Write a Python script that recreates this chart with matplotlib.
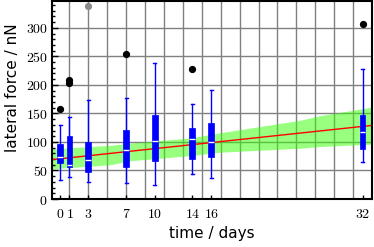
import numpy as np
import matplotlib
matplotlib.use("Agg")
import matplotlib.pyplot as plt
from matplotlib.ticker import MultipleLocator, FixedLocator, FuncFormatter

plt.rcParams['mathtext.fontset'] = 'cm'

# box plot values (lateral force, nN)
days = [0, 1, 3, 7, 10, 14, 16, 32]
whis_lo = [33, 39, 30, 28, 25, 43, 36, 64]
q1 = [63, 56, 48, 56, 66, 70, 74, 88]
medians = [74, 59, 69, 85, 101, 106, 100, 117]
q3 = [96, 110, 100, 121, 147, 124, 133, 147]
whis_hi = [130, 143, 173, 177, 239, 166, 191, 228]
outliers = [[158], [203, 208], [], [254], [], [227], [], [307]]
# one far outlier drawn in gray
gray_day = [3]
gray_val = [339]

# linear fit and its band
fit_days = [-0.85, 33.0]
fit_vals = [69, 129]
band_days = [-0.85, 5.3, 7.4, 13.8, 16.9, 25.4, 27.5, 33.0]
band_lo = [53, 60, 67, 76, 82, 89, 92, 96]
band_hi = [88, 94, 98, 107, 116, 138, 146, 161]

xticks = [0, 1, 3, 7, 10, 14, 16, 32]

fig = plt.figure(figsize=(3.74, 2.47), dpi=100)
ax = fig.add_axes([52/374, 1-199/247, 320/374, 198/247])

# grid: odd days vertically, every 50 nN horizontally
for d in range(1, 34, 2):
    ax.axvline(d, color='0.5', lw=1.0, zorder=0)
for v in range(50, 350, 50):
    ax.axhline(v, color='0.5', lw=1.0, zorder=0)

ax.fill_between(band_days, band_lo, band_hi, color=(0.2, 1.0, 0.0),
                alpha=0.5, lw=0, zorder=1)
ax.plot(fit_days, fit_vals, color='red', lw=1.0, zorder=2)

stats = []
for i in range(len(days)):
    stats.append({'whislo': whis_lo[i], 'q1': q1[i], 'med': medians[i],
                  'q3': q3[i], 'whishi': whis_hi[i], 'fliers': []})
ax.bxp(stats, positions=days, widths=0.62, patch_artist=True,
       manage_ticks=False, showfliers=False,
       boxprops=dict(facecolor='blue', edgecolor='blue', lw=0.5),
       medianprops=dict(color='white', lw=1.0),
       whiskerprops=dict(color='blue', lw=1.0),
       capprops=dict(color='blue', lw=1.0),
       zorder=3)

for d, vals in zip(days, outliers):
    if vals:
        ax.plot([d]*len(vals), vals, 'o', color='black', ms=4.2, zorder=4)
ax.plot(gray_day, gray_val, 'o', color='0.55', ms=4.2, zorder=4)

ax.set_xlim(-0.85, 33.0)
ax.set_ylim(0, 347)

ax.xaxis.set_major_locator(FixedLocator(xticks))
ax.yaxis.set_major_locator(MultipleLocator(50))
ax.yaxis.set_minor_locator(MultipleLocator(10))
fmt = FuncFormatter(lambda v, p: r'$%d$' % v)
ax.xaxis.set_major_formatter(fmt)
ax.yaxis.set_major_formatter(fmt)
ax.tick_params(axis='both', which='both', direction='in', labelsize=10,
               top=False, right=False, width=1.0, color='black')
ax.tick_params(axis='y', which='major', length=4, pad=3)
ax.tick_params(axis='y', which='minor', length=2)
ax.tick_params(axis='x', which='major', length=3, pad=6)

for s in ax.spines.values():
    s.set_linewidth(1.5)
    s.set_color('black')

fig.text(212/374, 1-233/247, 'time / days', ha='center', va='center',
         fontsize=11)
fig.text(12/374, 1-88/247, 'lateral force / nN', ha='center', va='center',
         rotation=90, fontsize=11)

fig.savefig('out.png', dpi=100)
